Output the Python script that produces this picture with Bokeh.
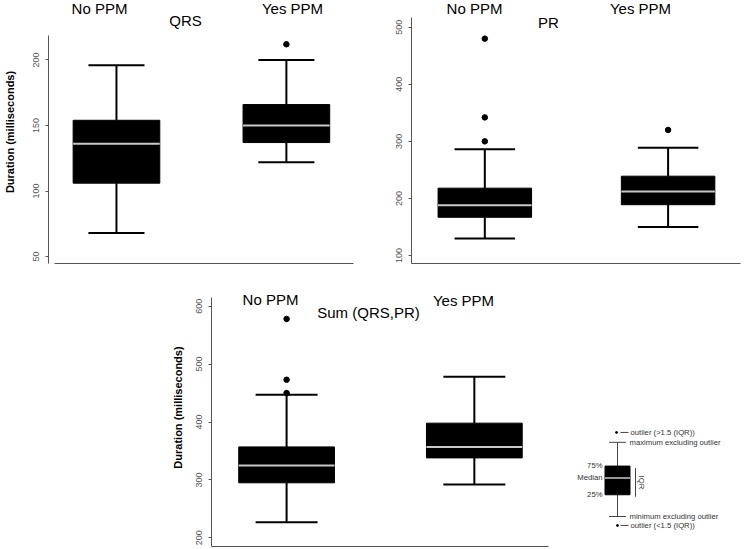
import math
from bokeh.plotting import figure
from bokeh.models import Range1d, FixedTicker, Label
from bokeh.layouts import column, row
from bokeh.embed import file_html
from bokeh.resources import INLINE

# ---------------- data ----------------
groups = ["No PPM", "Yes PPM"]
group_pos = [1, 2]

qrs_low = [68, 122]
qrs_q1 = [106, 137]
qrs_median = [136, 150]
qrs_q3 = [154, 166]
qrs_high = [196, 200]
qrs_outliers = [[], [212]]
qrs_ticks = [50, 100, 150, 200]

pr_low = [130, 150]
pr_q1 = [167, 189]
pr_median = [188, 212]
pr_q3 = [218, 239]
pr_high = [286, 289]
pr_outliers = [[300, 342, 480], [320]]
pr_ticks = [100, 200, 300, 400, 500]

sum_low = [227, 292]
sum_q1 = [295, 338]
sum_median = [325, 357]
sum_q3 = [357, 398]
sum_high = [447, 478]
sum_outliers = [[450, 473, 578], []]
sum_ticks = [200, 300, 400, 500, 600]

# schematic legend (arbitrary units)
legend_out_low = 0
legend_low = 9
legend_q1 = 31
legend_median = 48
legend_q3 = 60
legend_high = 84
legend_out_high = 94

FONT = "Liberation Sans"
AXIS_GREY = "#555555"
BOX_W = 0.51
CAP_W = 0.33


def panel(title, low, q1, med, q3, high, outliers, ticks, yr, ybounds, xbounds, width,
          height, borders, ylabel, label_pos, title_pos, label_standoff):
    p = figure(width=width, height=height, x_range=Range1d(0.6, 2.395),
               y_range=Range1d(*yr), output_backend="svg", toolbar_location=None,
               min_border_left=borders[0], min_border_right=borders[1],
               min_border_top=borders[2], min_border_bottom=borders[3])
    p.outline_line_color = None
    p.grid.visible = False
    p.background_fill_color = "white"
    p.border_fill_color = "white"

    # x axis: just the line
    xa = p.xaxis[0]
    xa.ticker = FixedTicker(ticks=[])
    xa.bounds = xbounds
    xa.major_label_text_font_size = "0px"
    xa.major_tick_out = 0
    xa.major_tick_in = 0
    xa.minor_tick_out = 0
    xa.minor_tick_in = 0
    xa.major_label_standoff = 0
    xa.axis_line_color = AXIS_GREY

    ya = p.yaxis[0]
    ya.ticker = FixedTicker(ticks=ticks)
    ya.bounds = ybounds
    ya.minor_tick_line_color = None
    ya.major_tick_out = 3
    ya.major_tick_in = 0
    ya.major_tick_line_color = AXIS_GREY
    ya.axis_line_color = AXIS_GREY
    ya.major_label_orientation = "vertical"
    ya.major_label_text_font = FONT
    ya.major_label_text_font_size = "9px"
    ya.major_label_text_color = AXIS_GREY
    ya.major_label_standoff = 6
    if ylabel:
        ya.axis_label = ylabel
        ya.axis_label_text_font = FONT
        ya.axis_label_text_font_size = "11px"
        ya.axis_label_text_font_style = "bold"
        ya.axis_label_text_color = "black"
        ya.axis_label_standoff = label_standoff

    xs = group_pos
    # whiskers
    p.segment(x0=xs, y0=q3, x1=xs, y1=high, line_color="black", line_width=2)
    p.segment(x0=xs, y0=q1, x1=xs, y1=low, line_color="black", line_width=2)
    p.segment(x0=[x - CAP_W / 2 for x in xs], y0=high,
              x1=[x + CAP_W / 2 for x in xs], y1=high, line_color="black", line_width=2)
    p.segment(x0=[x - CAP_W / 2 for x in xs], y0=low,
              x1=[x + CAP_W / 2 for x in xs], y1=low, line_color="black", line_width=2)
    # boxes
    p.vbar(x=xs, width=BOX_W, bottom=q1, top=q3, fill_color="black", line_color="black")
    # medians
    p.segment(x0=[x - BOX_W / 2 for x in xs], y0=med,
              x1=[x + BOX_W / 2 for x in xs], y1=med, line_color="#c8c8c8", line_width=2)
    # outliers
    ox, oy = [], []
    for x, outs in zip(xs, outliers):
        for v in outs:
            ox.append(x)
            oy.append(v)
    if ox:
        p.scatter(x=ox, y=oy, size=5.5, fill_color="black", line_color="black")

    for name, (lx, ly) in zip(groups, label_pos):
        p.add_layout(Label(x=lx, y=ly, x_units="screen", y_units="screen", text=name,
                           text_align="center", text_baseline="middle",
                           text_font=FONT, text_font_size="15px", text_color="black"))
    p.add_layout(Label(x=title_pos[0], y=title_pos[1], x_units="screen", y_units="screen",
                       text=title, text_align="center", text_baseline="middle",
                       text_font=FONT, text_font_size="15px", text_color="black"))
    return p


p1 = panel("QRS", qrs_low, qrs_q1, qrs_median, qrs_q3, qrs_high, qrs_outliers, qrs_ticks,
           (44.7, 245.4), (44.7, 218.9), (0.635, 2.395), 370, 268, (43, 17, 0, 3),
           "Duration (milliseconds)", [(51, 255), (244, 255)], (137, 243), 15)
p2 = panel("PR", pr_low, pr_q1, pr_median, pr_q3, pr_high, pr_outliers, pr_ticks,
           (86, 546.8), (86, 517), (0.6, 2.395), 375, 268, (41, 5, 0, 5), None,
           [(63, 255), (229, 255)], (137, 241), 2)
p3 = panel("Sum (QRS,PR)", sum_low, sum_q1, sum_median, sum_q3, sum_high, sum_outliers,
           sum_ticks, (185, 665.1), (185, 615.5), (0.6, 2.395), 560, 281, (211, 12, 0, 3),
           "Duration (milliseconds)",
           [(59, 247), (252, 246)], (157, 234), 10)

# ---------------- legend figure ----------------
lg = figure(width=185, height=281, x_range=Range1d(0, 185), y_range=Range1d(-21.3, 259.7),
            output_backend="svg", toolbar_location=None,
            min_border_left=0, min_border_right=0, min_border_top=0, min_border_bottom=0)
lg.axis.visible = False
lg.grid.visible = False
lg.outline_line_color = None
lx = 57
LG = "#444444"
lg.segment(x0=[lx, lx], y0=[legend_q3, legend_q1], x1=[lx, lx], y1=[legend_high, legend_low],
           line_color=LG, line_width=1)
lg.segment(x0=[lx - 8.5, lx - 8.5], y0=[legend_high, legend_low],
           x1=[lx + 8.5, lx + 8.5], y1=[legend_high, legend_low], line_color=LG, line_width=1)
lg.vbar(x=[lx], width=25, bottom=[legend_q1], top=[legend_q3], fill_color="black", line_color="black")
lg.segment(x0=[lx - 12.5], y0=[legend_median], x1=[lx + 12.5], y1=[legend_median],
           line_color="#c8c8c8", line_width=1.5)
lg.scatter(x=[lx - 1, lx], y=[legend_out_high, legend_out_low], size=2, color="black")
lg.segment(x0=[60, 60], y0=[legend_out_high, legend_out_low], x1=[68, 68],
           y1=[legend_out_high, legend_out_low], line_color=LG, line_width=1)
lg.segment(x0=[75], y0=[legend_q3 - 2], x1=[75], y1=[legend_q1 - 2], line_color=LG, line_width=1)


def ltxt(x, y, t, align="left", angle=0.0):
    lg.add_layout(Label(x=x, y=y, text=t, text_align=align, text_baseline="middle",
                        angle=angle, text_font=FONT, text_font_size="7.7px",
                        text_color="#333333"))


ltxt(70, legend_out_high, "outlier (>1.5 (IQR))")
ltxt(69, legend_high, "maximum excluding outlier")
ltxt(42, legend_q3 + 1, "75%", "right")
ltxt(42, legend_median, "Median", "right")
ltxt(42, legend_q1, "25%", "right")
ltxt(81, (legend_q1 + legend_q3) / 2 - 2, "IQR", "center", -math.pi / 2)
ltxt(69, legend_low, "minimum excluding outlier")
ltxt(70, legend_out_low, "outlier (<1.5 (IQR))")

layout = column(row(p1, p2), row(p3, lg))
open("out.html", "w").write(file_html(layout, INLINE))
